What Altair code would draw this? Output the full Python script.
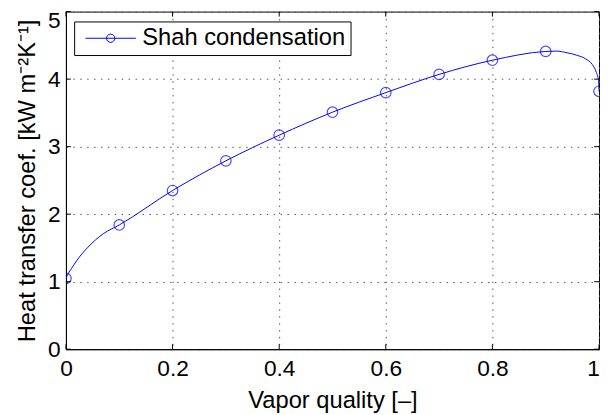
import altair as alt
import pandas as pd

# Marker points (every 0.1 in vapor quality)
marker_x = [0.0, 0.1, 0.2, 0.3, 0.4, 0.5, 0.6, 0.7, 0.8, 0.9, 1.0]
marker_y = [1.05, 1.84, 2.35, 2.79, 3.17, 3.51, 3.80, 4.07, 4.28, 4.41, 3.82]

# Curve points
curve_x = [0.0, 0.005, 0.01, 0.02, 0.04, 0.07, 0.1, 0.2, 0.3, 0.4, 0.5, 0.6,
           0.7, 0.8, 0.9, 0.92, 0.94, 0.96, 0.975, 0.987, 0.995, 0.999, 1.0]
curve_y = [1.05, 1.13, 1.19, 1.31, 1.50, 1.71, 1.84, 2.35, 2.79, 3.17, 3.51, 3.80,
           4.07, 4.28, 4.41, 4.415, 4.39, 4.35, 4.30, 4.22, 4.10, 3.98, 3.82]

x_ticks = [0, 0.2, 0.4, 0.6, 0.8, 1.0]
y_ticks = [0, 1, 2, 3, 4, 5]

series_name = "Shah condensation"
x_title = "Vapor quality [–]"
y_title = "Heat transfer coef. [kW m⁻²K⁻¹]"

FONT = "Liberation Sans"
BLUE = "#0000ff"
W, H = 540, 342

curve = pd.DataFrame({"x": curve_x, "y": curve_y, "s": series_name})
markers = pd.DataFrame({"x": marker_x, "y": marker_y})
xt = pd.DataFrame({"v": x_ticks})
yt = pd.DataFrame({"v": y_ticks})

xs = alt.Scale(domain=[0, 1], nice=False, zero=False)
ys = alt.Scale(domain=[0, 5], nice=False, zero=False)

legend = alt.Legend(
    title=None, orient="none", legendX=8.3, legendY=10,
    fillColor="white", strokeColor="black", padding=5, cornerRadius=0,
    labelFont=FONT, labelFontSize=24, labelColor="black", labelLimit=0,
    symbolType="M-2.55,0H2.55M0.42,0A0.42,0.42,0,1,1,-0.42,0A0.42,0.42,0,1,1,0.42,0",
    symbolSize=400, symbolStrokeWidth=1, symbolStrokeColor=BLUE,
    symbolFillColor="transparent", symbolOffset=20, labelOffset=20,
)

axis_common = dict(
    format="~g", grid=True, gridDash=[1.5, 5.5], gridColor="#555", ticks=False,
    labelFont=FONT, labelFontSize=23, labelColor="black", labelFlush=False,
    titleFont=FONT, titleFontSize=24, titleColor="black", titleFontWeight="normal",
    domainColor="black", domainWidth=1,
)

line = alt.Chart(curve).mark_line(
    interpolate="monotone", strokeWidth=1, clip=True
).encode(
    x=alt.X("x:Q", scale=xs, axis=alt.Axis(
        values=x_ticks, title=x_title, labelPadding=9, titlePadding=8,
        labelOffset={"condition": {"test": "datum.value == 1", "value": -6}, "value": 0},
        **axis_common)),
    y=alt.Y("y:Q", scale=ys, axis=alt.Axis(
        values=y_ticks, title=y_title, labelPadding=6, titlePadding=8,
        labelOffset={"condition": {"test": "datum.value == 5", "value": 9}, "value": 0},
        **axis_common)),
    color=alt.Color("s:N", scale=alt.Scale(range=[BLUE]), legend=legend),
)

pts = alt.Chart(markers).mark_point(
    shape="circle", filled=False, size=114, strokeWidth=1.2, color=BLUE, clip=True
).encode(x=alt.X("x:Q", scale=xs), y=alt.Y("y:Q", scale=ys))

tick_style = dict(color="black", strokeWidth=1)
xb = alt.Chart(xt).mark_rule(**tick_style).encode(
    x=alt.X("v:Q", scale=xs), y=alt.value(H), y2=alt.value(H - 5))
xtop = alt.Chart(xt).mark_rule(**tick_style).encode(
    x=alt.X("v:Q", scale=xs), y=alt.value(0), y2=alt.value(5))
yl = alt.Chart(yt).mark_rule(**tick_style).encode(
    y=alt.Y("v:Q", scale=ys), x=alt.value(0), x2=alt.value(5))
yr = alt.Chart(yt).mark_rule(**tick_style).encode(
    y=alt.Y("v:Q", scale=ys), x=alt.value(W), x2=alt.value(W - 5))

chart = alt.layer(line, pts, xb, xtop, yl, yr).properties(
    width=W, height=H,
    autosize=alt.AutoSizeParams(type="none"),
    padding={"left": 58.7, "top": 1, "right": 1, "bottom": 64},
    background="white",
).configure_view(stroke="black", strokeWidth=1)

chart.save("out.html", embed_options={"renderer": "svg", "actions": False})
